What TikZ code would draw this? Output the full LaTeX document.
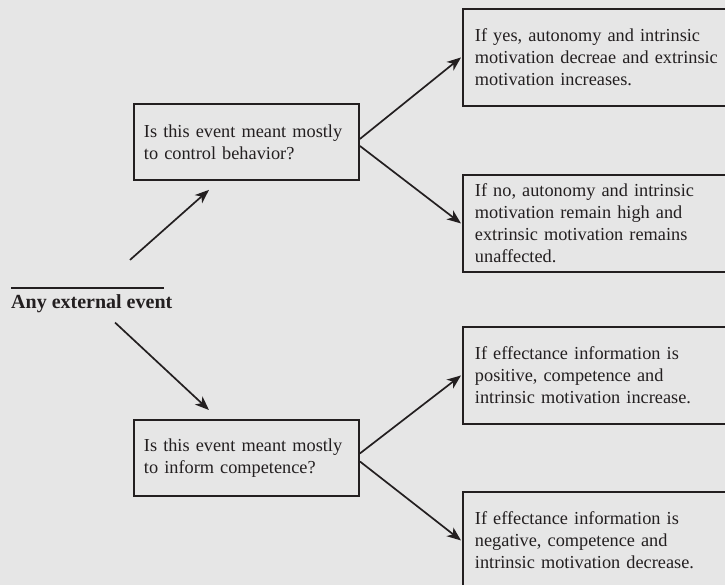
\documentclass[tikz,border=0pt]{standalone}
\usepackage{fontspec}
\setmainfont{Liberation Serif}
\usetikzlibrary{arrows.meta}
\definecolor{ink}{HTML}{231F20}
\definecolor{paper}{HTML}{E6E6E6}
\begin{document}
\begin{tikzpicture}[x=1pt,y=-1pt,
  txt/.style={text=ink, font=\fontsize{18.3}{22}\selectfont},
  box/.style={txt, draw=ink, line width=1.9pt, align=left, anchor=north west, inner ysep=4pt},
  qbox/.style={box, inner xsep=10pt, text width=205pt, minimum height=76pt},
  rbox/.style={box, inner xsep=12pt, text width=270pt, minimum height=97pt},
  arr/.style={draw=ink, line width=1.7pt, -{Stealth[length=14pt,width=11pt,inset=4pt]}}]
% canvas
\fill[paper] (0,0) rectangle (725,585);
\useasboundingbox (0,0) rectangle (725,585);
\clip (0,0) rectangle (725,585);

% starting point
\node[txt, font=\bfseries\fontsize{20}{22}\selectfont, anchor=base west, inner sep=0pt]
  (ev) at (11,308) {Any external event};
\draw[ink, line width=1.7pt] ([yshift=6pt]ev.north west) -- ++(153,0);

% questions
\node[qbox] (q1) at (133,103) {Is this event meant mostly\\to control behavior?};
\node[qbox] (q2) at (133,419) {Is this event meant mostly\\to inform competence?};

% outcomes
\node[rbox] (r1) at (462,8)   {If yes, autonomy and intrinsic\\motivation decreae and extrinsic\\motivation increases.};
\node[rbox] (r2) at (462,174) {If no, autonomy and intrinsic\\motivation remain high and\\extrinsic motivation remains\\unaffected.};
\node[rbox] (r3) at (462,326) {If effectance information is\\positive, competence and\\intrinsic motivation increase.};
\node[rbox] (r4) at (462,491) {If effectance information is\\negative, competence and\\intrinsic motivation decrease.};

% connectors
\draw[arr] ([xshift=119pt,yshift=34pt]ev.north west) -- ([xshift=-37.5pt,yshift=-9pt]q1.south);
\draw[arr] ([xshift=104pt,yshift=-10pt]ev.south west) -- ([xshift=-37.5pt,yshift=9pt]q2.north);
\draw[arr] ([yshift=3pt]q1.east) -- ([xshift=-1pt]r1.west);
\draw[arr] ([yshift=-4pt]q1.east) -- ([xshift=-1pt]r2.west);
\draw[arr] ([yshift=4.5pt]q2.east) -- ([xshift=-1pt]r3.west);
\draw[arr] ([yshift=-3.5pt]q2.east) -- ([xshift=-1pt]r4.west);
\end{tikzpicture}
\end{document}
